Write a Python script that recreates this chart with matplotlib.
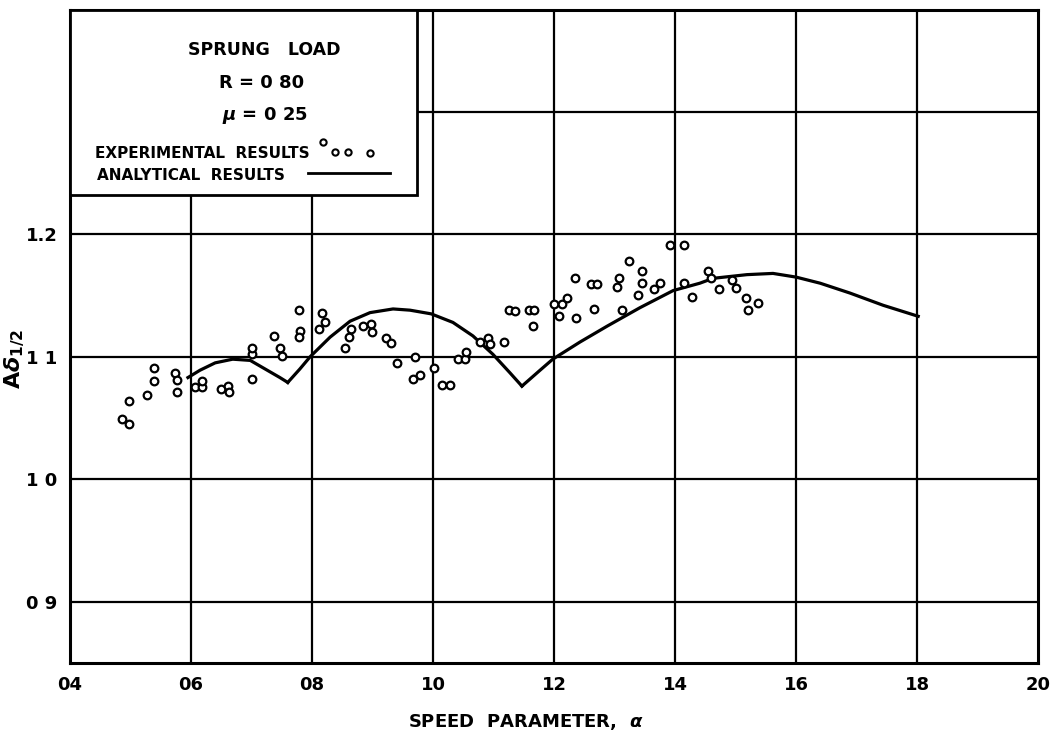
import numpy as np
import matplotlib
matplotlib.use("Agg")
import matplotlib.pyplot as plt
from matplotlib.patches import Rectangle

plt.rcParams['font.family'] = ['DejaVu Sans']
plt.rcParams['font.weight'] = 'bold'

# experimental results (speed parameter, A delta 1/2)
exp_x = [0.486, 0.498, 0.498, 0.527, 0.539, 0.539, 0.574, 0.577, 0.577, 0.607,
         0.618, 0.618, 0.650, 0.661, 0.663, 0.701, 0.701, 0.701, 0.737, 0.747,
         0.750, 0.779, 0.780, 0.779, 0.817, 0.821, 0.812, 0.864, 0.861, 0.855,
         0.884, 0.898, 0.899, 0.922, 0.931, 0.940, 0.970, 0.967, 0.979, 1.002,
         1.015, 1.028, 1.041, 1.053, 1.055, 1.078, 1.091, 1.094, 1.117, 1.126,
         1.136, 1.159, 1.167, 1.165, 1.200, 1.213, 1.221, 1.208, 1.236, 1.235,
         1.261, 1.271, 1.266, 1.304, 1.307, 1.324, 1.345, 1.345, 1.339, 1.312,
         1.365, 1.375, 1.392, 1.415, 1.415, 1.428, 1.455, 1.460, 1.473, 1.494,
         1.501, 1.517, 1.537, 1.521]
exp_y = [1.049, 1.045, 1.064, 1.069, 1.091, 1.080, 1.087, 1.081, 1.071, 1.075,
         1.075, 1.080, 1.074, 1.076, 1.071, 1.082, 1.102, 1.107, 1.117, 1.107,
         1.101, 1.138, 1.121, 1.116, 1.136, 1.128, 1.123, 1.123, 1.116, 1.107,
         1.125, 1.127, 1.120, 1.115, 1.111, 1.095, 1.100, 1.082, 1.085, 1.091,
         1.077, 1.077, 1.098, 1.098, 1.104, 1.112, 1.115, 1.110, 1.112, 1.138,
         1.137, 1.138, 1.138, 1.125, 1.143, 1.143, 1.148, 1.133, 1.132, 1.164,
         1.159, 1.159, 1.139, 1.157, 1.164, 1.178, 1.170, 1.160, 1.150, 1.138,
         1.155, 1.160, 1.191, 1.191, 1.160, 1.149, 1.170, 1.164, 1.155, 1.163,
         1.156, 1.148, 1.144, 1.138]

# analytical results (three branches)
ana_x = [0.595, 0.615, 0.640, 0.669, 0.698, 0.726, 0.747, 0.760,
         0.780, 0.797, 0.830, 0.863, 0.896, 0.934, 0.962, 0.997, 1.033, 1.066,
         1.099, 1.127, 1.147,
         1.177, 1.198, 1.243, 1.288, 1.342, 1.397, 1.441, 1.463, 1.519, 1.562,
         1.600, 1.640, 1.689, 1.744, 1.802]
ana_y = [1.083, 1.089, 1.095, 1.098, 1.097, 1.089, 1.083, 1.079,
         1.090, 1.100, 1.116, 1.129, 1.136, 1.139, 1.138, 1.135, 1.128, 1.117,
         1.102, 1.087, 1.076,
         1.089, 1.098, 1.112, 1.125, 1.140, 1.154, 1.160, 1.164, 1.167, 1.168,
         1.165, 1.160, 1.152, 1.142, 1.133]

x_ticks = [0.4, 0.6, 0.8, 1.0, 1.2, 1.4, 1.6, 1.8, 2.0]
x_labels = ['04', '06', '08', '10', '12', '14', '16', '18', '20']
y_ticks = [0.9, 1.0, 1.1, 1.2]
y_labels = ['0 9', '1 0', '1 1', '1.2']

fig = plt.figure(figsize=(10.52, 7.40), dpi=100)
ax = fig.add_axes([0.0665, 0.104, 0.9202, 0.8825])

ax.set_xlim(0.4, 2.0)
ax.set_ylim(0.85, 1.383)

# grid
for gx in x_ticks[1:-1]:
    ax.axvline(gx, color='black', lw=1.6, zorder=1)
for gy in [0.9, 1.0, 1.1, 1.2, 1.3]:
    ax.axhline(gy, color='black', lw=1.6, zorder=1)

ax.plot(ana_x[:8], ana_y[:8], color='black', lw=2.3, zorder=2)
ax.plot(ana_x[7:21], ana_y[7:21], color='black', lw=2.3, zorder=2)
ax.plot(ana_x[20:], ana_y[20:], color='black', lw=2.3, zorder=2)
ax.plot(exp_x, exp_y, 'o', ms=5.5, mfc='white', mec='black', mew=1.6, zorder=3)

ax.set_xticks(x_ticks)
ax.set_xticklabels(x_labels, fontsize=13, fontweight='bold')
ax.set_yticks(y_ticks)
ax.set_yticklabels(y_labels, fontsize=13, fontweight='bold')
ax.tick_params(length=0, pad=9)
for s in ax.spines.values():
    s.set_linewidth(2.2)

fig.text(0.5, 0.024, r'SPEED  PARAMETER,  $\alpha$', fontsize=13,
         ha='center', va='center')
fig.text(0.014, 0.515, r'A$\delta_{1/2}$', rotation=90, fontsize=16,
         ha='center', va='center')

# legend box
box = Rectangle((0.0, 0.717), 0.358, 0.283, transform=ax.transAxes,
                facecolor='white', edgecolor='black', lw=2.0, zorder=4, clip_on=False)
ax.add_patch(box)
ax.text(0.201, 0.939, 'SPRUNG   LOAD', transform=ax.transAxes, fontsize=12.5,
        ha='center', va='center', zorder=5)
ax.text(0.198, 0.888, 'R = 0 80', transform=ax.transAxes, fontsize=13,
        ha='center', va='center', zorder=5)
ax.text(0.201, 0.839, r'$\mu$ = 0 25', transform=ax.transAxes, fontsize=13,
        ha='center', va='center', zorder=5)
ax.text(0.026, 0.781, 'EXPERIMENTAL  RESULTS', transform=ax.transAxes, fontsize=11,
        ha='left', va='center', zorder=5)
ax.text(0.028, 0.747, 'ANALYTICAL  RESULTS', transform=ax.transAxes, fontsize=11,
        ha='left', va='center', zorder=5)
ax.plot([0.261, 0.274, 0.287, 0.310], [0.798, 0.782, 0.782, 0.781], 'o',
        ms=4.5, mfc='white', mec='black', mew=1.5, transform=ax.transAxes,
        zorder=5, clip_on=False)
ax.plot([0.246, 0.331], [0.750, 0.750], color='black', lw=2.0,
        transform=ax.transAxes, zorder=5)

fig.savefig('out.png', dpi=100)
